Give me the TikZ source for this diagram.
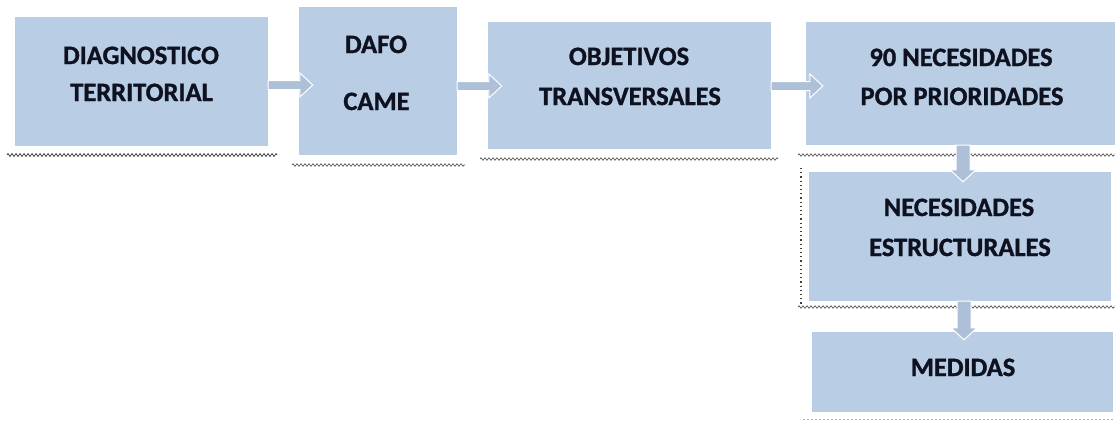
\documentclass[tikz,border=0pt]{standalone}
\usepackage{fontspec}
\setmainfont{Carlito}[BoldFeatures={FakeBold=1.2}]
\usetikzlibrary{calc,decorations.pathmorphing}
\definecolor{boxfill}{RGB}{185,205,229}
\definecolor{arrfill}{RGB}{174,192,216}
\definecolor{txtcol}{RGB}{14,18,32}
\tikzset{
  box/.style={fill=boxfill, draw=none, inner sep=0pt, rectangle},
  lbl/.style={anchor=base, inner sep=0pt, text=txtcol, font=\fontsize{26.5}{30}\selectfont\bfseries},
  wavyA/.style={decorate, decoration={zigzag, segment length=4pt, amplitude=1.5pt}, draw=black!75, line width=0.7pt},
  wavyB/.style={decorate, decoration={zigzag, segment length=4pt, amplitude=1.3pt}, draw=black!65, line width=0.65pt},
  dotline/.style={draw=black!75, line width=1.2pt, dash pattern=on 1.2pt off 3pt},
  lightdash/.style={draw=black!30, line width=0.8pt, dash pattern=on 2pt off 2pt},
  blk/.style={fill=arrfill, draw=white, line width=1pt, line join=miter}
}
% horizontal block arrow: #1 start point, #2 point giving tip x
\newcommand{\harrow}[2]{%
  \path[blk] let \p1=(#1), \p2=(#2) in
   (\x1,\y1+4.5) -- (\x2-13,\y1+4.5) -- (\x2-13,\y1+12) -- (\x2,\y1)
   -- (\x2-13,\y1-12) -- (\x2-13,\y1-4.5) -- (\x1,\y1-4.5) -- cycle;}
% vertical (downward) block arrow: #1 start point, #2 point giving tip y
\newcommand{\varrow}[2]{%
  \path[blk] let \p1=(#1), \p2=(#2) in
   (\x1-7,\y1) -- (\x1-7,\y2+12) -- (\x1-13,\y2+12) -- (\x1,\y2)
   -- (\x1+13,\y2+12) -- (\x1+7,\y2+12) -- (\x1+7,\y1) -- cycle;}
\begin{document}
\begin{tikzpicture}[x=1pt,y=-1pt]
\useasboundingbox (0,0) rectangle (1115,421);
\fill[white] (0,0) rectangle (1115,421);

% boxes
\node[box, minimum width=253pt, minimum height=129pt] (b1) at (141.5,81.5) {};
\node[box, minimum width=158pt, minimum height=148pt] (b2) at (378,81) {};
\node[box, minimum width=283pt, minimum height=127pt] (b3) at (629.5,85.5) {};
\node[box, minimum width=312pt, minimum height=123pt] (b4) at (962,83.5) {};
\node[box, minimum width=302pt, minimum height=129pt] (b5) at (960,236.5) {};
\node[box, minimum width=301pt, minimum height=80pt] (b6) at (962.5,372) {};

% texts
\node[lbl] (t1a) at (141,64) {DIAGNOSTICO};
\node[lbl] (t1b) at (141.5,101) {TERRITORIAL};
\node[lbl] (t2a) at (376,53) {DAFO};
\node[lbl] (t2b) at (376.5,110) {CAME};
\node[lbl] (t3a) at (629,65) {OBJETIVOS};
\node[lbl] (t3b) at (630,105) {TRANSVERSALES};
\node[lbl] (t4a) at (961,66) {90 NECESIDADES};
\node[lbl] (t4b) at (962,105) {POR PRIORIDADES};
\node[lbl] (t5a) at (959,216) {NECESIDADES};
\node[lbl] (t5b) at (960,256) {ESTRUCTURALES};
\node[lbl] (t6a) at (963,376) {MEDIDAS};

% underlines / frame marks
\draw[wavyA] (7,155) -- (277,155);
\draw[wavyB] (292,165) -- (465,165);
\draw[wavyB] (480,159) -- (778,159);
\draw[wavyB] (798,155) -- (1115,155);
\draw[wavyB] (798,307) -- (1115,307);
\draw[dotline] (801,168) -- (801,304);
\draw[lightdash] (803,419) -- (1115,419);

% connectors
\coordinate (s12) at ($(b1.east)+(0,3.5)$);
\coordinate (e12) at ($(b2.west)+(14,0)$);
\harrow{s12}{e12}
\coordinate (s23) at ($(b2.east)+(0,5)$);
\coordinate (e23) at ($(b3.west)+(14,0)$);
\harrow{s23}{e23}
\coordinate (s34) at ($(b3.east)+(0,0.5)$);
\coordinate (e34) at ($(b4.west)+(17,0)$);
\harrow{s34}{e34}
\coordinate (s45) at ($(b4.south)+(1,0)$);
\coordinate (e45) at ($(b5.north)+(0,10)$);
\varrow{s45}{e45}
\coordinate (s56) at ($(b5.south)+(4,0)$);
\coordinate (e56) at ($(b6.north)+(0,8)$);
\varrow{s56}{e56}
\end{tikzpicture}
\end{document}
